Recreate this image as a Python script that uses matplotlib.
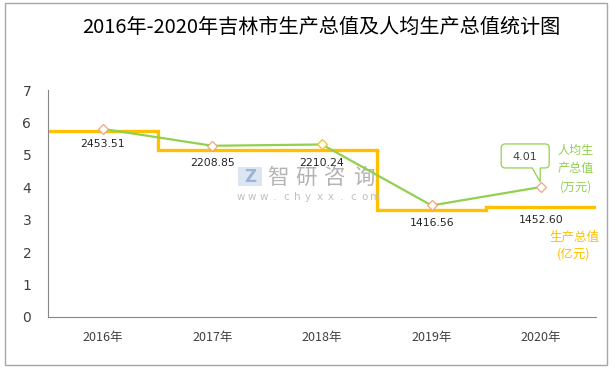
import matplotlib
matplotlib.use("Agg")
import matplotlib.pyplot as plt
from matplotlib.path import Path
from matplotlib.patches import PathPatch, Rectangle
from matplotlib.transforms import Affine2D, IdentityTransform
import numpy as np

plt.rcParams['font.family'] = ['Noto Sans CJK SC', 'DejaVu Sans']

years = ["2016年", "2017年", "2018年", "2019年", "2020年"]
gdp = [2453.51, 2208.85, 2210.24, 1416.56, 1452.60]          # 亿元
gdp_labels = ["2453.51", "2208.85", "2210.24", "1416.56", "1452.60"]
per_capita = [5.80, 5.28, 5.32, 3.44, 4.01]                   # 万元
per_capita_label = "4.01"
title = "2016年-2020年吉林市生产总值及人均生产总值统计图"

W, H = 615, 368
fig = plt.figure(figsize=(W / 100, H / 100), dpi=100)
fig.patch.set_facecolor('white')

# outer border
fig.patches.append(Rectangle((5 / W, 3 / H), 602 / W, 362 / H, transform=fig.transFigure,
                             fill=False, edgecolor='#A6A6A6', linewidth=1.0))

ax = fig.add_axes([48 / W, 1 - 317 / H, (596 - 48) / W, (317 - 90) / H])
ax2 = ax.twinx()
ax.set_zorder(ax2.get_zorder() + 1)
ax.patch.set_visible(False)

x = np.arange(len(years))
ax.set_xlim(-0.5, len(years) - 0.5)
ax.set_ylim(0, 7)
ax2.set_ylim(0, 3000)
ax2.set_yticks([])
for a in (ax, ax2):
    for s in ('top', 'right'):
        a.spines[s].set_visible(False)
    a.spines['left'].set_color('#868686')
    a.spines['bottom'].set_color('#868686')
ax2.spines['left'].set_visible(False)
ax2.spines['bottom'].set_visible(False)

ax.set_yticks(range(0, 8))
ax.set_yticklabels([str(i) for i in range(0, 8)], fontsize=10, color='#404040',
                   family=['DejaVu Sans'])
ax.set_xticks(x)
ax.set_xticklabels(years, fontsize=9, color='#404040')
ax.tick_params(axis='both', length=0)
ax.tick_params(axis='y', pad=12)
ax.tick_params(axis='x', pad=10)

# watermark (behind the data)
wm_chars = "智研咨询"
for i, ch in enumerate(wm_chars):
    fig.text((278 + 28.5 * i) / W, 1 - 178 / H, ch, ha='center', va='center',
             fontsize=15.5, color='#B4B4B4', zorder=0)
wm_url = "www.chyxx.com"
for i, ch in enumerate(wm_url):
    fig.text((241 + 11.2 * i) / W, 1 - 197 / H, ch, ha='center', va='center',
             fontsize=7.5, color='#C0C0C0', family=['DejaVu Sans'], zorder=0)
fig.patches.append(Rectangle((238 / W, 1 - 186 / H), 24 / W, 19 / H,
                             transform=fig.transFigure, facecolor='#DCE6F2',
                             edgecolor='none', zorder=0))
fig.text(250 / W, 1 - 176.5 / H, "Z", ha='center', va='center', fontsize=12,
         color='#9DB3D4', fontweight='bold', family=['DejaVu Sans'], zorder=0)

# GDP step line
edges = np.arange(len(years) + 1) - 0.5
ax2.stairs(gdp, edges, baseline=None, color='#FFC000', linewidth=2.4)
for xi, v, lab in zip(x, gdp, gdp_labels):
    ax2.annotate(lab, (xi, v), xytext=(0, -13), textcoords='offset pixels',
                 ha='center', va='center', fontsize=7.8, color='#262626',
                 family=['DejaVu Sans'])

# per-capita line
ax.plot(x, per_capita, color='#92D050', linewidth=1.6, zorder=3)
edge_cols = ['#F4A27A', '#F4A27A', '#FFC000', '#F4A27A', '#F4A27A']
for xi, v, ec in zip(x, per_capita, edge_cols):
    ax.plot(xi, v, marker='D', markersize=5.5, markerfacecolor='white',
            markeredgecolor=ec, markeredgewidth=0.9, zorder=4)

# callout for last value
fig.canvas.draw()
px, py = ax.transData.transform((x[-1], per_capita[-1]))
L, R, B, T, r = -40, 8, 19, 43, 4
verts = [(L + r, B), (-9, B), (-1, 5), (-1, B), (R - r, B),
         (R, B), (R, B + r), (R, T - r), (R, T), (R - r, T),
         (L + r, T), (L, T), (L, T - r), (L, B + r), (L, B), (L + r, B), (L + r, B)]
codes = [Path.MOVETO, Path.LINETO, Path.LINETO, Path.LINETO, Path.LINETO,
         Path.CURVE3, Path.CURVE3, Path.LINETO, Path.CURVE3, Path.CURVE3,
         Path.LINETO, Path.CURVE3, Path.CURVE3, Path.LINETO, Path.CURVE3, Path.CURVE3,
         Path.CLOSEPOLY]
tr = Affine2D().translate(px, py) + IdentityTransform()
fig.patches.append(PathPatch(Path(verts, codes), transform=tr, facecolor='white',
                             edgecolor='#92D050', linewidth=0.9, zorder=5))
fig.text((px - 16) / W, (py + 30) / H, per_capita_label, ha='center', va='center',
         fontsize=8, color='#404040', family=['DejaVu Sans'], zorder=6)

# series labels on the right
fig.text(576 / W, 1 - 168.5 / H, "人均生\n产总值\n(万元)", ha='center', va='center',
         fontsize=8.7, color='#92D050', linespacing=1.55)
fig.text(574 / W, 1 - 245.5 / H, "生产总值\n(亿元)", ha='center', va='center',
         fontsize=9, color='#FFC000', linespacing=1.4)

# title
fig.text(321 / W, 1 - 27 / H, title, ha='center', va='center', fontsize=14.5,
         color='#000000')

fig.savefig("out.png", dpi=100)
